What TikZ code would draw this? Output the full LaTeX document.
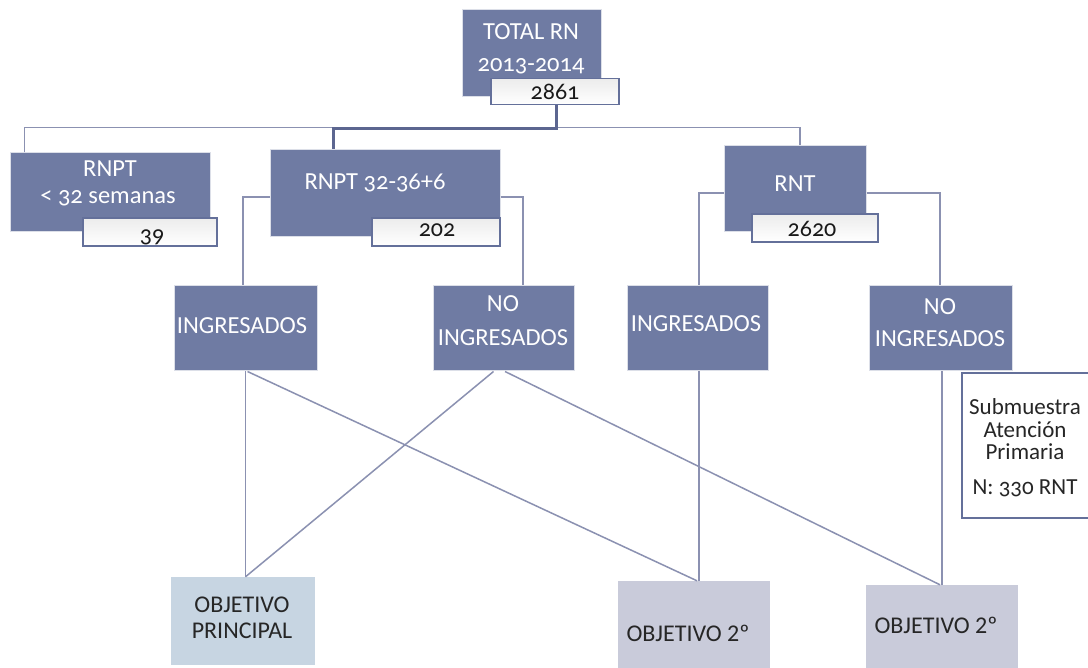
\documentclass[tikz,border=0pt]{standalone}
\usepackage{fontspec}
\setmainfont{Carlito}[Numbers=OldStyle]
\newfontfamily\objfont{Carlito}
\usetikzlibrary{calc}
\definecolor{boxblue}{HTML}{6F7BA3}
\definecolor{boxedge}{HTML}{DCDFE8}
\definecolor{numedge}{HTML}{64709A}
\definecolor{linec}{HTML}{8B91B1}
\definecolor{thickc}{HTML}{5C6690}
\definecolor{objpfill}{HTML}{C7D5E2}
\definecolor{objsfill}{HTML}{C9CBDA}
\definecolor{numgrey}{HTML}{ECECEC}
\tikzset{
  dbox/.style={draw=boxedge, line width=1pt, fill=boxblue, inner sep=0pt},
  nbox/.style={draw=numedge, line width=1.6pt, top color=numgrey, bottom color=white, inner sep=0pt},
  subbox/.style={draw=numedge, line width=1.8pt, fill=white, inner sep=0pt},
  objpbox/.style={fill=objpfill, inner sep=0pt},
  objsbox/.style={fill=objsfill, inner sep=0pt},
  wtxt/.style={text=white, inner sep=0pt, font=\fontsize{24.5}{26}\selectfont},
  ntxt/.style={text=black!90, inner sep=0pt, font=\fontsize{24}{26}\selectfont},
  stxt/.style={text=black!85, inner sep=0pt, font=\fontsize{23}{25}\selectfont},
  otxt/.style={text=black!85, inner sep=0pt, font=\objfont\fontsize{24}{26}\selectfont},
  conn/.style={draw=linec, line width=1.5pt},
  thickconn/.style={draw=thickc, line width=3pt},
}
\begin{document}
\begin{tikzpicture}[x=1pt,y=-1pt]
\clip (0,0) rectangle (1088,668);
\fill[white] (0,0) rectangle (1088,668);

% level 0
\node[dbox, minimum width=139pt, minimum height=87pt] (total) at (531.5,53.5) {};
\node[nbox, minimum width=128pt, minimum height=26pt] (n2861) at (555,91.5) {};
\node[wtxt] (ttotal) at (531,32) {TOTAL RN};
\node[wtxt] (tyears) at (531,66) {2013-2014};
\node[ntxt] (t2861) at (555,92) {2861};

% level 1
\node[dbox, minimum width=200pt, minimum height=79pt] (rnpta) at (110,192.5) {};
\node[nbox, minimum width=134pt, minimum height=28pt] (n39) at (150,232) {};
\node[wtxt] (trnpta1) at (110,169) {RNPT};
\node[wtxt] (trnpta2) at (108,198) {< 32 semanas};
\node[ntxt] (t39) at (152,237) {39};

\node[dbox, minimum width=230pt, minimum height=87pt] (rnptb) at (385,193.5) {};
\node[nbox, minimum width=128pt, minimum height=28pt] (n202) at (436,232) {};
\node[wtxt] (trnptb) at (375,183) {RNPT 32-36+6};
\node[ntxt] (t202) at (437,230) {202};

\node[dbox, minimum width=142pt, minimum height=86pt] (rnt) at (795,189) {};
\node[nbox, minimum width=126pt, minimum height=28pt] (n2620) at (815,228) {};
\node[wtxt] (trnt) at (795,184) {RNT};
\node[ntxt] (t2620) at (812,229) {2620};

% level 2
\node[dbox, minimum width=143pt, minimum height=85pt] (ing1) at (245.5,328.5) {};
\node[wtxt] (ting1) at (242,326) {INGRESADOS};
\node[dbox, minimum width=141pt, minimum height=85pt] (noing1) at (503.5,328.5) {};
\node[wtxt] (tnoing1a) at (503,304) {NO};
\node[wtxt] (tnoing1b) at (503,338) {INGRESADOS};
\node[dbox, minimum width=141pt, minimum height=85pt] (ing2) at (697.5,328.5) {};
\node[wtxt] (ting2) at (696,324) {INGRESADOS};
\node[dbox, minimum width=143pt, minimum height=85pt] (noing2) at (940.5,328.5) {};
\node[wtxt] (tnoing2a) at (940,307) {NO};
\node[wtxt] (tnoing2b) at (940,339) {INGRESADOS};

\node[subbox, minimum width=138pt, minimum height=145pt] (sub) at (1031,445.5) {};
\node[stxt] (tsub1) at (1025,407) {Submuestra};
\node[stxt] (tsub2) at (1025,430) {Atención};
\node[stxt] (tsub3) at (1025,452) {Primaria};
\node[stxt] (tsub4) at (1025,488) {N: 330 RNT};

% level 3
\node[objpbox, minimum width=144pt, minimum height=88pt] (objp) at (243,621) {};
\node[otxt] (tobjp1) at (242,605) {OBJETIVO};
\node[otxt] (tobjp2) at (242,631) {PRINCIPAL};
\node[objsbox, minimum width=152pt, minimum height=91pt] (obj2a) at (694,626.5) {};
\node[otxt] (tobj2a) at (688,633) {OBJETIVO 2º};
\node[objsbox, minimum width=152pt, minimum height=87pt] (obj2b) at (942,628.5) {};
\node[otxt] (tobj2b) at (936,625) {OBJETIVO 2º};

% connectors level 0 -> 1
\draw[conn] ([xshift=15pt]rnpta.north west) -- ++(0,-25) -| ([xshift=5pt]rnt.north);
\draw[thickconn] ([xshift=1pt]n2861.south) -- ++(0,23) -| ([xshift=-52pt]rnptb.north);

% connectors level 1 -> 2
\draw[conn] ([yshift=-3.5pt]rnptb.west) -| ([xshift=-2.5pt]ing1.north);
\draw[conn] ([yshift=-3.5pt]rnptb.east) -| ([xshift=19.5pt]noing1.north);
\draw[conn] ([yshift=-4pt]rnt.west) -| ([xshift=1.5pt]ing2.north);
\draw[conn] ([yshift=-4pt]rnt.east) -| ([xshift=-0.5pt]noing2.north);

% connectors level 2 -> 3
\draw[conn] (ing1.south) -- (ing1.south |- objp.north);
\draw[conn] ([xshift=2pt]ing1.south) -- ([xshift=3pt]obj2a.north);
\draw[conn] ([xshift=-10pt]noing1.south) -- (ing1.south |- objp.north);
\draw[conn] ([xshift=1.5pt]noing1.south) -- ([xshift=-2pt]obj2b.north);
\draw[conn] ([xshift=1.5pt]ing2.south) -- ([xshift=1.5pt]ing2.south |- obj2a.north);
\draw[conn] ([xshift=1.5pt]noing2.south) -- ([xshift=1.5pt]noing2.south |- obj2b.north);
\end{tikzpicture}
\end{document}
